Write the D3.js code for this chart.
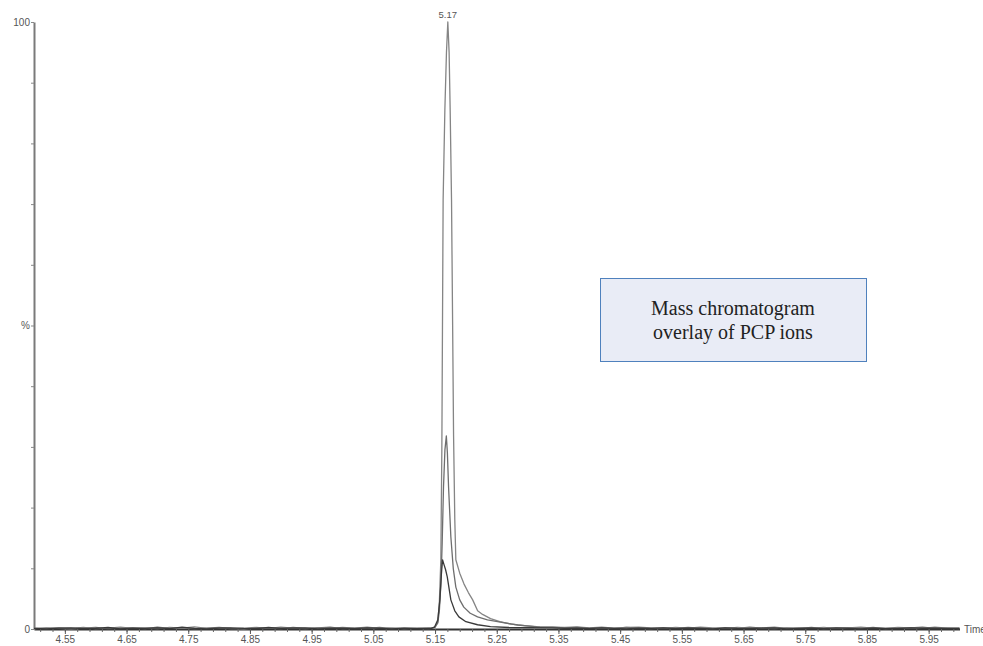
<!DOCTYPE html>
<html>
<head>
<meta charset="utf-8">
<script src="https://cdn.jsdelivr.net/npm/d3@7"></script>
<style>
	body { margin: 0; background: #fff; }
	svg { display: block; }
	.tick text { font-family: "Liberation Sans", Arial, sans-serif; fill: #555; }
</style>
</head>
<body>
<div id="chart"></div>
<script>
/**
 * mass chromatogram overlay (PCP ions)
 */

/* Data - retention time (min) and relative abundance (%) */

// baseline stretches shared by all three ion traces
var baseTimesLeft = [4.50, 4.52, 4.54, 4.56, 4.58, 4.60, 4.62, 4.64, 4.66, 4.68, 4.70, 4.72, 4.74, 4.76, 4.78, 4.80, 4.82,
	4.84, 4.86, 4.88, 4.90, 4.92, 4.94, 4.96, 4.98, 5.00, 5.02, 5.04, 5.06, 5.08, 5.10, 5.12, 5.14];
var baseTimesRight = [5.34, 5.36, 5.38, 5.40, 5.42, 5.44, 5.46, 5.48, 5.50, 5.52, 5.54, 5.56, 5.58, 5.60, 5.62, 5.64, 5.66,
	5.68, 5.70, 5.72, 5.74, 5.76, 5.78, 5.80, 5.82, 5.84, 5.86, 5.88, 5.90, 5.92, 5.94, 5.96, 5.98, 6.00];

// base ion (the 100% trace)
var ionABaseLeft = [0.15, 0.05, 0.2, 0.1, 0.25, 0.05, 0.15, 0.3, 0.1, 0.2, 0.05, 0.25, 0.15, 0.35, 0.1, 0.2, 0.05,
	0.15, 0.25, 0.1, 0.3, 0.15, 0.05, 0.2, 0.1, 0.25, 0.15, 0.3, 0.1, 0.2, 0.05, 0.15, 0.2];
var ionAPeakTimes = [5.144, 5.150, 5.1545, 5.157, 5.1594, 5.1610, 5.1631, 5.1659, 5.1685, 5.1707, 5.1728, 5.1745, 5.1767,
	5.1785, 5.1800, 5.1820, 5.1837, 5.190, 5.197, 5.204, 5.211, 5.219, 5.227, 5.240, 5.255, 5.273, 5.295, 5.320];
var ionAPeakValues = [0.2, 0.3, 1.2, 4.5, 11.4, 29.5, 70.7, 85.5, 95, 100, 95, 85.5, 70.7,
	50, 32, 18, 11.4, 9.2, 7.4, 6.0, 4.8, 3.0, 2.4, 1.7, 1.2, 0.8, 0.55, 0.35];
var ionABaseRight = [0.3, 0.25, 0.35, 0.2, 0.3, 0.15, 0.25, 0.3, 0.2, 0.1, 0.25, 0.15, 0.3, 0.2, 0.1, 0.25, 0.15,
	0.2, 0.3, 0.1, 0.2, 0.15, 0.25, 0.1, 0.2, 0.3, 0.15, 0.1, 0.25, 0.2, 0.1, 0.3, 0.15, 0.2];

// second ion (~32%)
var ionBBaseLeft = [0.05, 0.2, 0.1, 0.0, 0.15, 0.25, 0.05, 0.1, 0.2, 0.05, 0.3, 0.1, 0.2, 0.05, 0.15, 0.25, 0.1,
	0.0, 0.2, 0.15, 0.05, 0.25, 0.1, 0.2, 0.3, 0.05, 0.15, 0.1, 0.25, 0.05, 0.15, 0.1, 0.05];
var ionBPeakTimes = [5.144, 5.150, 5.1545, 5.157, 5.1595, 5.1615, 5.1637, 5.166, 5.1683, 5.1700, 5.1719, 5.1756, 5.1795,
	5.1837, 5.190, 5.1966, 5.207, 5.2189, 5.235, 5.2513, 5.284, 5.315];
var ionBPeakValues = [0.1, 0.3, 1.0, 3.0, 7.5, 14, 23.4, 29.5, 31.8, 29, 23.4, 15.2, 10,
	6.9, 4.8, 3.6, 2.6, 2.0, 1.5, 1.2, 0.66, 0.35];
var ionBBaseRight = [0.3, 0.2, 0.25, 0.15, 0.2, 0.1, 0.25, 0.15, 0.05, 0.2, 0.1, 0.25, 0.15, 0.05, 0.2, 0.1, 0.3,
	0.15, 0.05, 0.2, 0.1, 0.25, 0.05, 0.15, 0.2, 0.1, 0.25, 0.05, 0.15, 0.2, 0.3, 0.1, 0.2, 0.05];

// third ion (~11%)
var ionCBaseLeft = [0.1, 0.0, 0.15, 0.2, 0.05, 0.1, 0.25, 0.0, 0.15, 0.1, 0.2, 0.05, 0.3, 0.1, 0.0, 0.15, 0.2,
	0.1, 0.05, 0.25, 0.1, 0.15, 0.2, 0.0, 0.1, 0.15, 0.05, 0.2, 0.1, 0.0, 0.15, 0.05, 0.1];
var ionCPeakTimes = [5.144, 5.149, 5.1545, 5.1578, 5.1602, 5.1621, 5.1645, 5.1670, 5.1698, 5.1756, 5.1820, 5.1886,
	5.200, 5.2189, 5.240, 5.270];
var ionCPeakValues = [0.1, 0.3, 1.5, 4.8, 8.9, 11.4, 10.6, 9.8, 8.6, 4.8, 3.0, 2.0,
	1.2, 0.7, 0.4, 0.25];
var ionCBaseRight = [0.2, 0.1, 0.15, 0.05, 0.2, 0.1, 0.0, 0.15, 0.1, 0.2, 0.05, 0.15, 0.1, 0.0, 0.2, 0.1, 0.05,
	0.15, 0.2, 0.0, 0.1, 0.15, 0.05, 0.2, 0.1, 0.0, 0.15, 0.1, 0.05, 0.2, 0.1, 0.15, 0.05, 0.1];

// axis labels
var xTickLabels = ['4.55', '4.65', '4.75', '4.85', '4.95', '5.05', '5.15', '5.25', '5.35', '5.45', '5.55', '5.65', '5.75', '5.85', '5.95'];
var yTickValues = [0, 10, 20, 30, 40, 50, 60, 70, 80, 90, 100];
var yTickLabels = {0: '0', 50: '%', 100: '100'};
var peakLabel = '5.17';
var peakTime = 5.1707;
var noteLines = ['Mass chromatogram', 'overlay of PCP ions'];

/* Global Variables */
var width = 983, height = 646;
var traceColors = ['#858585', '#6e6e6e', '#3a3a3a'];

// join time/value arrays into point objects
function zipPoints(times, values) {
	var pts = [];
	for (var i = 0; i < Math.min(times.length, values.length); i++)
		pts.push({t: times[i], v: values[i]});
	return pts;
}

function buildTrace(baseLeft, peakTimes, peakValues, baseRight) {
	return zipPoints(baseTimesLeft, baseLeft)
		.concat(zipPoints(peakTimes, peakValues))
		.concat(zipPoints(baseTimesRight, baseRight));
}

var traces = [
	buildTrace(ionABaseLeft, ionAPeakTimes, ionAPeakValues, ionABaseRight),
	buildTrace(ionBBaseLeft, ionBPeakTimes, ionBPeakValues, ionBBaseRight),
	buildTrace(ionCBaseLeft, ionCPeakTimes, ionCPeakValues, ionCBaseRight)
];

var svg = d3.select('#chart').append('svg')
	.attr('width', width)
	.attr('height', height);

svg.append('rect').attr('width', width).attr('height', height).attr('fill', '#fff');

var x = d3.scaleLinear().domain([4.50, 6.00]).range([34, 959.5]);
var y = d3.scaleLinear().domain([0, 100]).range([629, 22]);

// minor x ticks every 0.02 min
var minorTicks = d3.range(4.51, 6.0, 0.02);
svg.append('g')
	.attr('transform', 'translate(0,' + y(0) + ')')
	.call(d3.axisBottom(x).tickValues(minorTicks).tickSize(3).tickSizeOuter(0).tickFormat(''))
	.call(function(g) {
		g.select('.domain').attr('stroke', '#333').attr('stroke-width', 2);
		g.selectAll('.tick line').attr('stroke', '#666');
	});

// major x ticks + labels
svg.append('g')
	.attr('transform', 'translate(0,' + y(0) + ')')
	.call(d3.axisBottom(x)
		.tickValues(xTickLabels.map(Number))
		.tickSize(5)
		.tickSizeOuter(0)
		.tickFormat(function(d) { return d.toFixed(2); }))
	.call(function(g) {
		g.select('.domain').remove();
		g.selectAll('.tick line').attr('stroke', '#555');
		g.selectAll('.tick text').attr('font-size', 10).attr('dy', '0.75em').attr('y', 6);
	});

svg.append('text')
	.attr('x', 964)
	.attr('y', y(0) + 4)
	.attr('font-family', '"Liberation Sans", Arial, sans-serif')
	.attr('font-size', 10)
	.attr('fill', '#555')
	.text('Time');

// y axis
svg.append('g')
	.attr('transform', 'translate(' + x(4.50) + ',0)')
	.call(d3.axisLeft(y)
		.tickValues(yTickValues)
		.tickSize(3)
		.tickSizeOuter(0)
		.tickFormat(function(d) { return yTickLabels[d] || ''; }))
	.call(function(g) {
		g.select('.domain').attr('stroke', '#7a7a7a').attr('stroke-width', 2);
		g.selectAll('.tick line').attr('stroke', '#888');
		g.selectAll('.tick text').attr('font-size', 10).attr('x', -4);
	});

// ion traces (draw smallest last so it sits on top)
var line = d3.line()
	.x(function(d) { return x(d.t); })
	.y(function(d) { return y(d.v); });

traces.forEach(function(pts, i) {
	svg.append('path')
		.datum(pts)
		.attr('class', 'trace')
		.attr('fill', 'none')
		.attr('stroke', traceColors[i])
		.attr('stroke-width', 1.3)
		.attr('stroke-linejoin', 'round')
		.attr('d', line);
});

// apex label
svg.append('text')
	.attr('x', x(peakTime))
	.attr('y', y(100) - 4)
	.attr('text-anchor', 'middle')
	.attr('font-family', '"Liberation Sans", Arial, sans-serif')
	.attr('font-size', 9.5)
	.attr('fill', '#555')
	.text(peakLabel);

// annotation box
var note = svg.append('g').attr('transform', 'translate(600,278)');
note.append('rect')
	.attr('x', 0.5).attr('y', 0.5)
	.attr('width', 266).attr('height', 83)
	.attr('fill', '#e9ecf6')
	.attr('stroke', '#4f81bd')
	.attr('stroke-width', 1);

note.selectAll('text.note')
	.data(noteLines)
	.enter().append('text')
	.attr('class', 'note')
	.attr('x', 133)
	.attr('y', function(d, i) { return 37 + i * 23.5; })
	.attr('text-anchor', 'middle')
	.attr('font-family', '"Liberation Serif", "DejaVu Serif", serif')
	.attr('font-size', 20)
	.attr('fill', '#222')
	.text(function(d) { return d; });
</script>
</body>
</html>
